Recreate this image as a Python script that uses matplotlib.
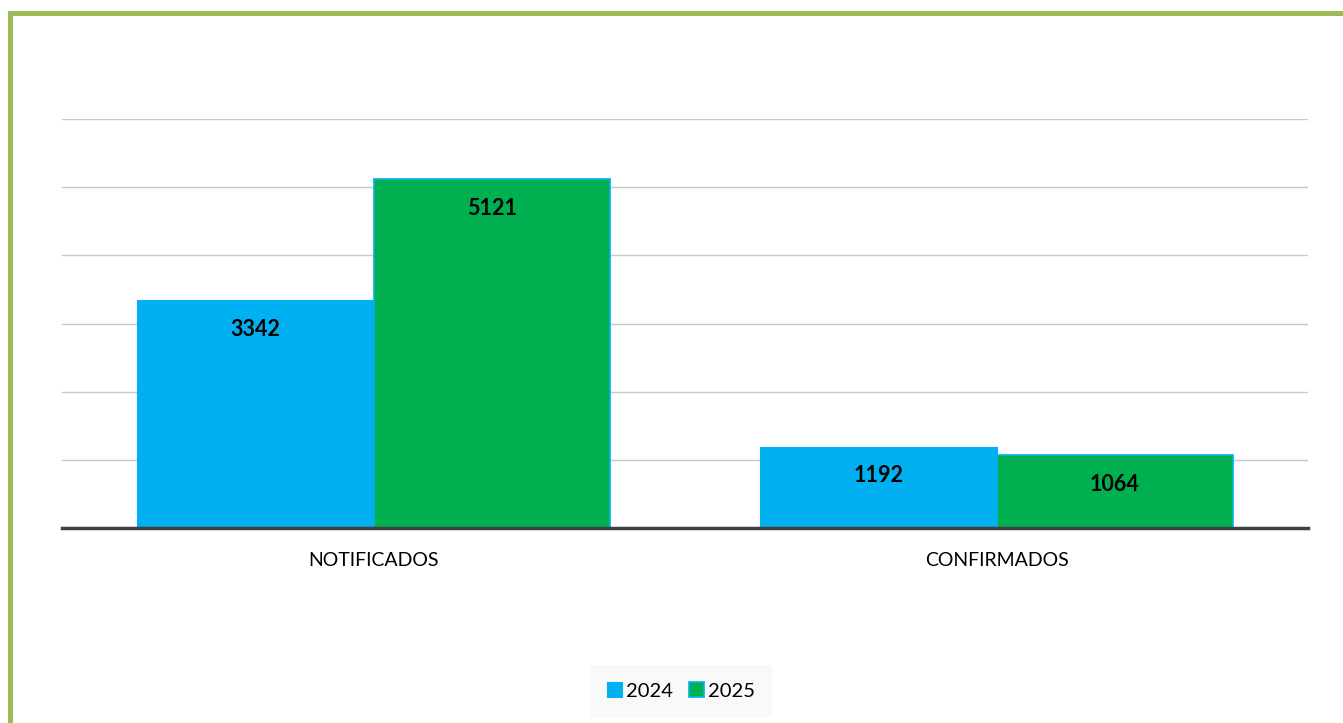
import numpy as np
import matplotlib.pyplot as plt
from matplotlib.patches import Rectangle

categories = ["NOTIFICADOS", "CONFIRMADOS"]
years = ["2024", "2025"]
values_2024 = [3342, 1192]
values_2025 = [5121, 1064]

blue = "#00B0F0"
green = "#00B050"

plt.rcParams['font.family'] = ['Lato', 'DejaVu Sans']

fig = plt.figure(figsize=(13.43, 7.23), dpi=100)
ax = fig.add_axes([62 / 1343, 1 - 528 / 723, 1246 / 1343, 409 / 723])

x = np.arange(len(categories))
w = 0.379
b1 = ax.bar(x - w / 2, values_2024, w, color=blue, edgecolor=blue, linewidth=0.8,
            label=years[0], zorder=3)
b2 = ax.bar(x + w / 2, values_2025, w, color=green, edgecolor=blue, linewidth=1.2,
            label=years[1], zorder=3)

# value labels inside the top of each bar
for bars in (b1, b2):
    for rect in bars:
        h = rect.get_height()
        ax.annotate(f"{int(h)}", (rect.get_x() + rect.get_width() / 2, h),
                    xytext=(0, -21), textcoords="offset points",
                    ha="center", va="center", fontsize=15.5, fontweight="bold",
                    color="black", zorder=4)

ax.set_xlim(-0.5, 1.5)
ax.set_ylim(0, 6000)
ax.set_yticks(np.arange(0, 6001, 1000))
ax.yaxis.grid(True, color="#C8C8C8", linewidth=1.0, zorder=0)
ax.tick_params(axis="y", left=False, labelleft=False)
ax.tick_params(axis="x", bottom=False, labelsize=14, pad=14)
ax.set_xticks(x)
ax.set_xticklabels(categories)
for s in ["top", "right", "left"]:
    ax.spines[s].set_visible(False)
ax.spines["bottom"].set_color("#404040")
ax.spines["bottom"].set_linewidth(2.5)
ax.spines["bottom"].set_zorder(5)

leg = fig.legend(loc="center", bbox_to_anchor=(681 / 1343, 1 - 691 / 723), ncol=2,
                 fontsize=14.5, frameon=True, fancybox=False, handlelength=0.75,
                 handleheight=0.75, handletextpad=0.2, columnspacing=0.8,
                 borderpad=0.8)
leg.get_frame().set_facecolor("#F8F8F8")
leg.get_frame().set_edgecolor("#F8F8F8")

# green frame around the chart (right and bottom edges fall outside the image)
fig.patches.append(Rectangle((10 / 1343, -0.2), 1.2, 1 - 12.5 / 723 + 0.2,
                             transform=fig.transFigure, fill=False,
                             edgecolor="#9BBB59", linewidth=3.6, zorder=10))

fig.savefig("out.png", dpi=100)
